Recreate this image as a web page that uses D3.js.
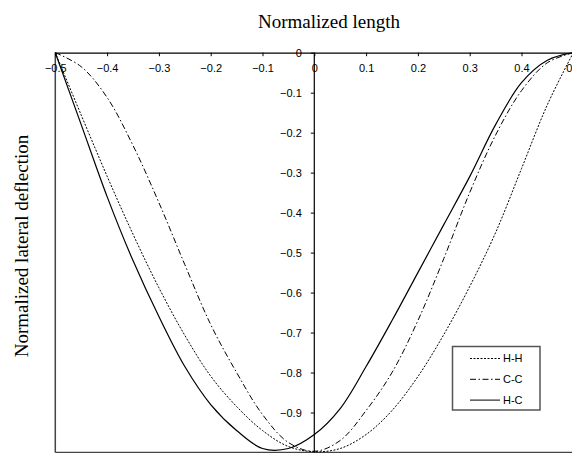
<!DOCTYPE html>
<html>
<head>
<meta charset="utf-8">
<script src="https://cdn.jsdelivr.net/npm/d3@7"></script>
<style>
  body { margin: 0; background: #fff; }
  text { font-family: "Liberation Sans", Arial, sans-serif; }
</style>
</head>
<body>
<div id="chart"></div>
<script>
var width = 572;
var height = 453;

// normalized length positions
var xs = [-0.5, -0.45, -0.4, -0.35, -0.3, -0.25, -0.2, -0.15, -0.1, -0.05, 0,
          0.05, 0.1, 0.15, 0.2, 0.25, 0.3, 0.35, 0.4, 0.45, 0.5];

// deflection
var hh = [0, -0.156, -0.309, -0.454, -0.588, -0.707, -0.809, -0.885, -0.945, -0.985, -0.998,
          -0.99, -0.955, -0.895, -0.81, -0.705, -0.585, -0.45, -0.29, -0.13, 0];
var cc = [0, -0.035, -0.112, -0.232, -0.375, -0.53, -0.68, -0.8, -0.905, -0.975, -0.997,
          -0.97, -0.895, -0.8, -0.67, -0.515, -0.35, -0.206, -0.095, -0.025, 0];
var hc = [0, -0.18, -0.36, -0.52, -0.66, -0.785, -0.88, -0.945, -0.99, -0.99, -0.955,
          -0.89, -0.785, -0.67, -0.55, -0.43, -0.31, -0.18, -0.075, -0.019, 0];

var seriesNames = ['H-H', 'C-C', 'H-C'];
var xTicks = [-0.5, -0.4, -0.3, -0.2, -0.1, 0, 0.1, 0.2, 0.3, 0.4, 0.5];
var yTicks = [0, -0.1, -0.2, -0.3, -0.4, -0.5, -0.6, -0.7, -0.8, -0.9];

var dashes = ['2,1.5', '6,2.5,1.5,2.5', null];

var x = d3.scaleLinear().domain([-0.5, 0.5]).range([55.3, 573.3]);
var y = d3.scaleLinear().domain([0, -1]).range([52.7, 452.5]);

var svg = d3.select('#chart').append('svg')
  .attr('width', width).attr('height', height);

// plot frame (left and bottom)
svg.append('line')
  .attr('x1', x(-0.5)).attr('x2', x(-0.5))
  .attr('y1', y(0)).attr('y2', y(-1))
  .attr('stroke', '#444').attr('stroke-width', 1.5);
svg.append('line')
  .attr('x1', x(-0.5)).attr('x2', width)
  .attr('y1', y(-1)).attr('y2', y(-1))
  .attr('stroke', '#444').attr('stroke-width', 1.5);

// top x axis
var xAxis = svg.append('g')
  .attr('transform', 'translate(0,' + y(0) + ')')
  .call(d3.axisBottom(x).tickValues(xTicks).tickSize(3.5).tickPadding(8)
    .tickFormat(function(d){ return d === 0 ? '0' : d3.format('.1f')(d); }));
xAxis.select('.domain').attr('stroke', '#000').attr('stroke-width', 1.2);
xAxis.selectAll('text').attr('font-size', 11).attr('fill', '#000');

// center y axis
var yAxis = svg.append('g')
  .attr('transform', 'translate(' + x(0) + ',0)')
  .call(d3.axisLeft(y).tickValues(yTicks).tickSize(3.5).tickPadding(9)
    .tickFormat(function(d){ return d === 0 ? '0' : d3.format('.1f')(d); }));
yAxis.select('.domain').attr('stroke', '#000').attr('stroke-width', 1.2)
  .attr('d', 'M0,' + y(0) + 'V' + y(-1));
yAxis.selectAll('text').attr('font-size', 11).attr('fill', '#000');

// curves
var line = d3.line()
  .x(function(d){ return x(d[0]); })
  .y(function(d){ return y(d[1]); })
  .curve(d3.curveCatmullRom.alpha(0.5));

[hh, cc, hc].forEach(function(vals, i){
  svg.append('path')
    .datum(xs.map(function(v, j){ return [v, vals[j]]; }))
    .attr('d', line)
    .attr('fill', 'none')
    .attr('stroke', '#000')
    .attr('stroke-width', i === 2 ? 1.2 : 1)
    .attr('stroke-dasharray', dashes[i]);
});

// titles
svg.append('text')
  .attr('x', 329).attr('y', 28)
  .attr('text-anchor', 'middle')
  .style('font-family', '"Liberation Serif", "Times New Roman", serif')
  .attr('font-size', 19)
  .text('Normalized length');

svg.append('text')
  .attr('transform', 'translate(28,246) rotate(-90)')
  .attr('text-anchor', 'middle')
  .style('font-family', '"Liberation Serif", "Times New Roman", serif')
  .attr('font-size', 19)
  .text('Normalized lateral deflection');

// legend
var legend = svg.append('g');
legend.append('rect')
  .attr('x', 452.5).attr('y', 346.5)
  .attr('width', 87.5).attr('height', 63.5)
  .attr('fill', '#fff').attr('stroke', '#555').attr('stroke-width', 1.5);

var rows = legend.selectAll('g.row')
  .data(seriesNames)
  .enter()
  .append('g')
  .attr('class', 'row')
  .attr('transform', function(d, i){ return 'translate(0,' + (358.5 + i * 20.8) + ')'; });

rows.append('line')
  .attr('x1', 470).attr('x2', 500)
  .attr('stroke', '#000')
  .attr('stroke-width', 1)
  .attr('stroke-dasharray', function(d, i){ return dashes[i]; });

rows.append('text')
  .attr('x', 503).attr('dy', '0.36em')
  .attr('font-size', 11)
  .text(function(d){ return d; });
</script>
</body>
</html>
